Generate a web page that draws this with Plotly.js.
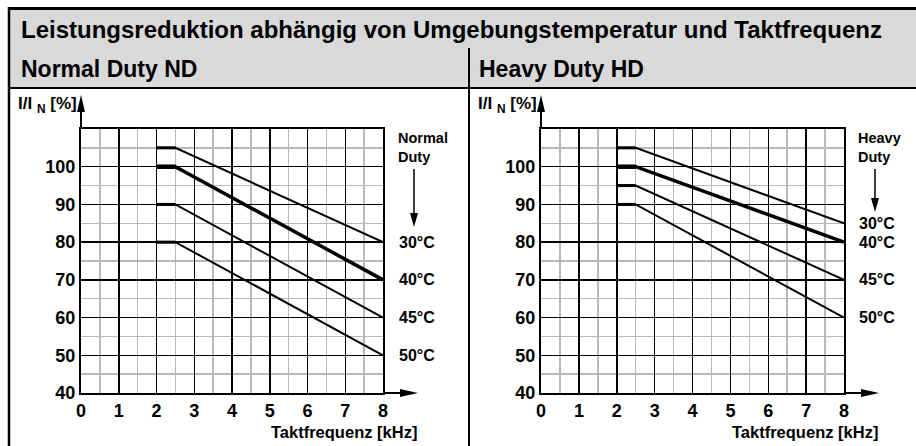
<!DOCTYPE html>
<html><head><meta charset="utf-8">
<script src="https://cdn.plot.ly/plotly-3.0.1.min.js"></script>
<style>html,body{margin:0;padding:0;background:#fff}#chart{width:916px;height:446px}</style>
</head><body><div id="chart"></div>
<script>
// ---- data ----
const freqPoints = [2, 2.5, 8];          // kHz: start of flat, end of flat, end of derating
const temperatures = ['30°C', '40°C', '45°C', '50°C'];
const ndStart = [105, 100, 90, 80];      // Normal Duty, % at 2..2.5 kHz
const ndEnd = [80, 70, 60, 50];          // Normal Duty, % at 8 kHz
const hdStart = [105, 100, 95, 90];      // Heavy Duty, % at 2..2.5 kHz
const hdEnd = [85, 80, 70, 60];          // Heavy Duty, % at 8 kHz
const xTicks = [0, 1, 2, 3, 4, 5, 6, 7, 8];
const yTicks = [40, 50, 60, 70, 80, 90, 100];
const mainTitle = 'Leistungsreduktion abhängig von Umgebungstemperatur und Taktfrequenz';
const panelTitles = ['Normal Duty ND', 'Heavy Duty HD'];
const dutyLabels = ['Normal<br>Duty', 'Heavy<br>Duty'];
const yLabel = 'I/I <sub>N</sub> [%]';
const xLabel = 'Taktfrequenz [kHz]';

// ---- layout helpers (pixels -> paper) ----
const W = 916, H = 446;
const FONT = 'Liberation Sans, Arial, Helvetica, sans-serif';
const px = v => v / W;
const py = v => 1 - v / H;

const plotTop = 129, plotBottom = 393;
const panels = [
  { x0: 81, x1: 383, start: ndStart, end: ndEnd, xa: 'x', ya: 'y', labX: 397, arrowX: 414, arrowTip: 227, arrowBase: 213 },
  { x0: 541, x1: 844, start: hdStart, end: hdEnd, xa: 'x2', ya: 'y2', labX: 857, arrowX: 875, arrowTip: 212, arrowBase: 198 }
];

const traces = [];
const annotations = [];
const shapes = [];

// header
shapes.push({ type: 'rect', xref: 'paper', yref: 'paper', x0: px(8), x1: px(916), y0: py(88), y1: py(8), fillcolor: '#d9d9d9', line: { width: 0 }, layer: 'below' });
shapes.push({ type: 'line', xref: 'paper', yref: 'paper', x0: px(8), x1: px(916), y0: py(8.5), y1: py(8.5), line: { color: '#000', width: 3 } });
shapes.push({ type: 'line', xref: 'paper', yref: 'paper', x0: px(8), x1: px(916), y0: py(88), y1: py(88), line: { color: '#000', width: 2 } });
shapes.push({ type: 'line', xref: 'paper', yref: 'paper', x0: px(9), x1: px(9), y0: py(7), y1: py(446), line: { color: '#000', width: 2.5 } });
shapes.push({ type: 'line', xref: 'paper', yref: 'paper', x0: px(469), x1: px(469), y0: py(48), y1: py(446), line: { color: '#000', width: 2 } });

annotations.push({ xref: 'paper', yref: 'paper', x: px(19), y: py(30), xanchor: 'left', yanchor: 'middle', showarrow: false, text: '<b>' + mainTitle + '</b>', font: { family: FONT, size: 24, color: '#000' } });
annotations.push({ xref: 'paper', yref: 'paper', x: px(19), y: py(69), xanchor: 'left', yanchor: 'middle', showarrow: false, text: '<b>' + panelTitles[0] + '</b>', font: { family: FONT, size: 23, color: '#000' } });
annotations.push({ xref: 'paper', yref: 'paper', x: px(477), y: py(69), xanchor: 'left', yanchor: 'middle', showarrow: false, text: '<b>' + panelTitles[1] + '</b>', font: { family: FONT, size: 23, color: '#000' } });

const layout = {
  width: W, height: H,
  margin: { l: 0, r: 0, t: 0, b: 0 },
  paper_bgcolor: '#fff', plot_bgcolor: '#fff',
  showlegend: false,
  shapes, annotations
};

panels.forEach((p, i) => {
  const sfx = i === 0 ? '' : '2';
  const axCommon = {
    showline: true, linecolor: '#000', linewidth: 2, mirror: true,
    showgrid: true, gridcolor: '#000', gridwidth: 1.5,
    zeroline: false, ticks: '', fixedrange: true,
    tickfont: { family: FONT, size: 18, color: '#000', weight: 'bold' }
  };
  layout['xaxis' + sfx] = Object.assign({}, axCommon, {
    domain: [px(p.x0), px(p.x1)], range: [0, 8], anchor: 'y' + sfx,
    tickmode: 'array', tickvals: xTicks, ticktext: xTicks.map(String),
    minor: { dtick: 0.5, showgrid: true, gridcolor: '#b9b9b9', gridwidth: 1.5, ticks: '' }
  });
  layout['yaxis' + sfx] = Object.assign({}, axCommon, {
    domain: [py(plotBottom), py(plotTop)], range: [40, 110], anchor: 'x' + sfx,
    tickmode: 'array', tickvals: yTicks, ticktext: yTicks.map(String),
    minor: { dtick: 5, tick0: 40, showgrid: true, gridcolor: '#b9b9b9', gridwidth: 1.5, ticks: '' }
  });

  temperatures.forEach((t, k) => {
    const bold = t === '40°C';
    const s = p.start[k], e = p.end[k];
    traces.push({ type: 'scatter', mode: 'lines', xaxis: p.xa, yaxis: p.ya, x: freqPoints, y: [s, s, e],
      line: { color: '#000', width: bold ? 3.5 : 2 }, hoverinfo: 'skip' });
    traces.push({ type: 'scatter', mode: 'lines', xaxis: p.xa, yaxis: p.ya, x: freqPoints.slice(0, 2), y: [s, s],
      line: { color: '#000', width: bold ? 4.5 : 3 }, hoverinfo: 'skip' });
    annotations.push({ xref: 'paper', yref: p.ya, x: px(p.labX), y: e, xanchor: 'left', yanchor: 'middle', showarrow: false,
      text: '<b>' + t + '</b>', font: { family: FONT, size: 16, color: '#000' } });
  });

  // duty label + arrow
  annotations.push({ xref: 'paper', yref: 'paper', x: px(p.labX - 1), y: py(128), xanchor: 'left', yanchor: 'top', align: 'left', showarrow: false,
    text: '<b>' + dutyLabels[i] + '</b>', font: { family: FONT, size: 14.5, color: '#000' } });
  shapes.push({ type: 'line', xref: 'paper', yref: 'paper', x0: px(p.arrowX), x1: px(p.arrowX), y0: py(169), y1: py(p.arrowBase), line: { color: '#000', width: 1.5 } });
  shapes.push({ type: 'path', xref: 'paper', yref: 'paper', fillcolor: '#000', line: { width: 0 },
    path: `M ${px(p.arrowX - 4)} ${py(p.arrowBase)} L ${px(p.arrowX + 4)} ${py(p.arrowBase)} L ${px(p.arrowX)} ${py(p.arrowTip)} Z` });

  // axis arrows
  shapes.push({ type: 'line', xref: 'paper', yref: 'paper', x0: px(p.x0), x1: px(p.x0), y0: py(plotTop), y1: py(110), line: { color: '#000', width: 2 } });
  shapes.push({ type: 'path', xref: 'paper', yref: 'paper', fillcolor: '#000', line: { width: 0 },
    path: `M ${px(p.x0 - 4)} ${py(112)} L ${px(p.x0 + 4)} ${py(112)} L ${px(p.x0)} ${py(95)} Z` });
  shapes.push({ type: 'line', xref: 'paper', yref: 'paper', x0: px(p.x1), x1: px(p.x1 + 20), y0: py(plotBottom), y1: py(plotBottom), line: { color: '#000', width: 2 } });
  shapes.push({ type: 'path', xref: 'paper', yref: 'paper', fillcolor: '#000', line: { width: 0 },
    path: `M ${px(p.x1 + 17)} ${py(plotBottom - 4)} L ${px(p.x1 + 17)} ${py(plotBottom + 4)} L ${px(p.x1 + 35)} ${py(plotBottom)} Z` });

  // axis titles
  annotations.push({ xref: 'paper', yref: 'paper', x: px(p.x0 - 2), y: py(105), xanchor: 'right', yanchor: 'middle', showarrow: false,
    text: '<b>' + yLabel + '</b>', font: { family: FONT, size: 17, color: '#000' } });
  annotations.push({ xref: 'paper', yref: 'paper', x: px(p.x1 + 36), y: py(432), xanchor: 'right', yanchor: 'middle', showarrow: false,
    text: '<b>' + xLabel + '</b>', font: { family: FONT, size: 16.5, color: '#000' } });
});

Plotly.newPlot('chart', traces, layout, { staticPlot: true, displayModeBar: false });
</script>
</body></html>
